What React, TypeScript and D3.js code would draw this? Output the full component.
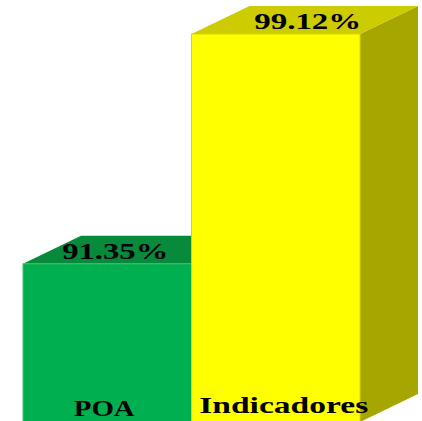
import { useEffect, useRef } from 'react';
import * as d3 from 'd3';

const categories = ['POA', 'Indicadores'];
const values = [91.35, 99.12];
const valueLabels = ['91.35%', '99.12%'];
const frontColors = ['#00b050', '#ffff00'];
const topColors = ['#078a3c', '#cccc00'];
const sideColors = ['#05803a', '#a6a600'];
const edgeColors = ['#3fbf6e', '#d8d800'];

const width = 422;
const height = 421;

export default function App() {
  const svgRef = useRef<SVGSVGElement>(null);

  useEffect(() => {
    if (!svgRef.current) return;
    const svg = d3.select(svgRef.current);
    svg.selectAll('*').remove();

    const x = d3.scaleBand().domain(categories).range([23, 360]).padding(0);
    const y = d3.scaleLinear().domain([86, 100]).range([422, 8]);
    const dx = 58;
    const dy = -28;
    const floor = y(86);
    const bw = x.bandwidth();

    // per-bar tweaks
    const labelShift = [8, 32];
    const labelWidth = [106, 107];
    const catShift = [-3, 8];
    const catWidth = [61, 169];

    categories.forEach((c, i) => {
      const x0 = x(c)!;
      const x1 = x0 + bw;
      const yt = y(values[i]);
      const g = svg.append('g');

      // side
      g.append('path')
        .attr('d', `M${x1},${yt}L${x1 + dx},${yt + dy}L${x1 + dx},${floor + dy}L${x1},${floor}Z`)
        .attr('fill', sideColors[i]);
      // top
      g.append('path')
        .attr('d', `M${x0},${yt}L${x0 + dx},${yt + dy}L${x1 + dx},${yt + dy}L${x1},${yt}Z`)
        .attr('fill', topColors[i]);
      // front
      g.append('rect')
        .attr('x', x0)
        .attr('y', yt)
        .attr('width', bw)
        .attr('height', floor - yt)
        .attr('fill', frontColors[i])
        .attr('stroke', edgeColors[i])
        .attr('stroke-width', 1);

      g.append('text')
        .attr('x', x0 + bw / 2 + labelShift[i])
        .attr('y', yt - 5)
        .attr('text-anchor', 'middle')
        .attr('font-family', '"Liberation Serif", "Times New Roman", serif')
        .attr('font-weight', 'bold')
        .attr('font-size', 24)
        .attr('textLength', labelWidth[i])
        .attr('lengthAdjust', 'spacingAndGlyphs')
        .attr('fill', '#000')
        .text(valueLabels[i]);
    });

    categories.forEach((c, i) => {
      svg.append('text')
        .attr('x', x(c)! + bw / 2 + catShift[i])
        .attr('y', i === 0 ? 416 : 413)
        .attr('text-anchor', 'middle')
        .attr('font-family', '"Liberation Serif", "Times New Roman", serif')
        .attr('font-weight', 'bold')
        .attr('font-size', 23)
        .attr('textLength', catWidth[i])
        .attr('lengthAdjust', 'spacingAndGlyphs')
        .attr('fill', '#000')
        .text(c);
    });
  }, []);

  return (
    <svg
      ref={svgRef}
      width={width}
      height={height}
      style={{ position: 'absolute', left: 0, top: 0, background: '#fff' }}
    />
  );
}
